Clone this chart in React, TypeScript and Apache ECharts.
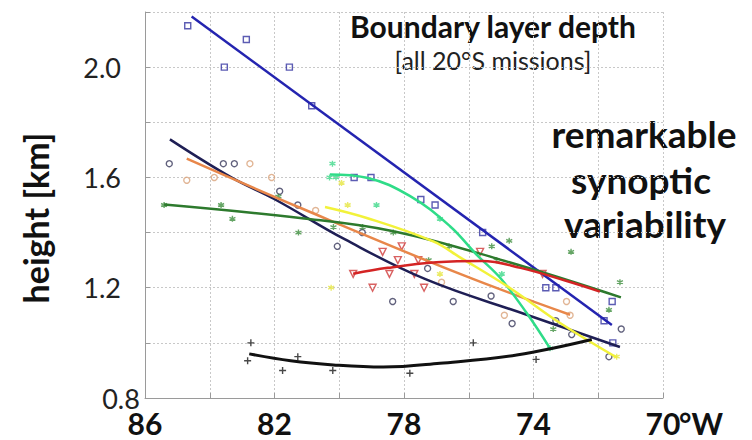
import React, { useEffect, useRef } from 'react';
import * as echarts from 'echarts';

// ---- data (longitude °W, height km) ----
const blueSquares = [[84.68, 2.15], [82.87, 2.1], [83.55, 2.0], [81.54, 2.0], [80.85, 1.86], [79.54, 1.6], [79.02, 1.6], [77.48, 1.52], [77.04, 1.5], [75.57, 1.4], [73.62, 1.2], [73.31, 1.2], [71.57, 1.15], [71.82, 1.08], [71.55, 1.0]];
const blueFit = [[84.56, 2.184], [71.58, 1.065]];

const navyCircles = [[85.25, 1.65], [83.58, 1.65], [83.24, 1.65], [81.84, 1.55], [81.28, 1.5], [80.06, 1.35], [79.29, 1.4], [77.27, 1.27], [78.35, 1.15], [76.48, 1.15], [75.31, 1.17], [74.66, 1.07], [73.31, 1.08], [72.82, 1.03], [71.29, 1.05], [71.67, 0.95]];
const navyFit = [[85.23, 1.738], [83.32, 1.599], [81.98, 1.52], [79.82, 1.375], [77.3, 1.229], [74.21, 1.102], [71.33, 0.985]];

const orangeCircles = [[84.71, 1.59], [83.86, 1.6], [82.76, 1.65], [82.09, 1.6], [80.73, 1.48], [76.84, 1.22], [74.9, 1.1], [72.98, 1.15], [72.87, 1.1]];
const orangeFit = [[84.71, 1.668], [81.21, 1.49], [76.27, 1.25], [72.87, 1.102]];

const greenStars = [[85.41, 1.5], [83.65, 1.5], [83.3, 1.45], [81.88, 1.53], [81.26, 1.4], [80.18, 1.42], [79.28, 1.42], [78.33, 1.4], [77.24, 1.3], [76.61, 1.35], [75.29, 1.35], [75.14, 1.3], [74.75, 1.37], [73.39, 1.05], [72.84, 1.33], [71.33, 1.22], [71.67, 1.12]];
const greenFit = [[85.41, 1.502], [81.21, 1.453], [78.33, 1.405], [75.03, 1.302], [71.3, 1.165]];

const redTriangles = [[79.57, 1.25], [78.97, 1.2], [78.66, 1.33], [78.45, 1.25], [78.19, 1.3], [78.07, 1.35], [77.68, 1.25], [77.56, 1.3], [77.38, 1.2], [75.65, 1.33], [73.72, 1.25]];
const redFit = [[79.57, 1.251], [78.5, 1.272], [77.0, 1.292], [75.6, 1.297], [74.4, 1.272], [73.0, 1.225], [71.95, 1.186]];

const mintStars = [[80.21, 1.65], [80.3, 1.6], [80.1, 1.6], [78.85, 1.5], [76.89, 1.45], [74.98, 1.25], [73.49, 0.98]];
const mintFit = [[80.29, 1.611], [79.15, 1.599], [77.81, 1.532], [76.58, 1.423], [75.76, 1.32], [75.03, 1.236], [74.21, 1.108], [73.48, 0.978]];

const yellowDots = [[79.93, 1.58], [79.74, 1.5], [80.25, 1.2], [76.89, 1.25], [71.43, 0.95]];
const yellowFit = [[80.44, 1.493], [79.15, 1.453], [77.1, 1.368], [76.27, 1.31], [74.73, 1.199], [73.18, 1.072], [71.43, 0.947]];

const blackPluses = [[82.73, 1.0], [82.83, 0.935], [81.28, 0.95], [81.75, 0.9], [80.2, 0.9], [77.82, 0.89], [75.86, 1.0], [73.92, 0.94]];
const blackFit = [[82.78, 0.96], [81.5, 0.935], [80.18, 0.92], [78.64, 0.912], [76.89, 0.926], [74.52, 0.956], [72.2, 1.012]];

const xLabeled = [86, 82, 78, 74, 70];
const yLabeled = [0.8, 1.2, 1.6, 2.0];

const FONT = 'Lato';
const PLUS = 'path://M5,0L5,10M0,5L10,5';
const ASTER = 'path://M5,0L5,10M0.7,2.5L9.3,7.5M0.7,7.5L9.3,2.5';

function scatter(data: number[][], symbol: string, color: string, size: number, rotate = 0) {
  return {
    type: 'scatter',
    data,
    symbol,
    symbolSize: size,
    symbolRotate: rotate,
    itemStyle: { color: 'rgba(0,0,0,0)', borderColor: color, borderWidth: 1.4 },
    z: 2,
  };
}
function fit(data: number[][], color: string, width = 2.5) {
  return {
    type: 'line',
    data,
    smooth: 0.4,
    showSymbol: false,
    symbol: 'none',
    lineStyle: { color, width },
    z: 3,
  };
}

export default function App() {
  const ref = useRef<HTMLDivElement>(null);
  useEffect(() => {
    if (!ref.current) return;
    const chart = echarts.init(ref.current, null, { renderer: 'svg' });
    chart.setOption({
      animation: false,
      backgroundColor: '#ffffff',
      grid: { left: 145, right: 89, top: 12, bottom: 42 },
      xAxis: {
        type: 'value',
        min: 70,
        max: 86,
        interval: 2,
        inverse: true,
        axisLine: { show: true, lineStyle: { color: '#9a9a9a', width: 1 } },
        axisTick: { show: true, inside: true, length: 5, lineStyle: { color: '#9a9a9a' } },
        splitLine: { show: true, lineStyle: { color: '#c8c8c8', type: [2, 2], width: 1 } },
        axisLabel: {
          formatter: (v: number) => (xLabeled.includes(v) ? String(v) : ''),
          fontFamily: FONT,
          fontWeight: 'bold',
          fontSize: 30,
          lineHeight: 26,
          color: '#111',
          margin: 12,
          alignMinLabel: 'center',
          alignMaxLabel: 'center',
        },
      },
      yAxis: {
        type: 'value',
        min: 0.8,
        max: 2.2,
        interval: 0.2,
        axisLine: { show: true, lineStyle: { color: '#9a9a9a', width: 1 } },
        axisTick: { show: true, inside: true, length: 5, lineStyle: { color: '#9a9a9a' } },
        splitLine: { show: true, lineStyle: { color: '#c8c8c8', type: [2, 2], width: 1 } },
        axisLabel: {
          formatter: (v: number) => (yLabeled.some((t) => Math.abs(t - v) < 1e-6) ? v.toFixed(1) : ''),
          fontFamily: FONT,
          fontSize: 27,
          lineHeight: 20,
          color: '#222',
          margin: 24,
          alignMinLabel: 'center',
          alignMaxLabel: 'center',
        },
      },
      graphic: [
        { type: 'text', x: 493, y: 26, style: { text: 'Boundary layer depth', font: `bold 30px ${FONT}`, fill: '#111', align: 'center', verticalAlign: 'middle' } },
        { type: 'text', x: 493, y: 60, style: { text: '[all 20°S missions]', font: `25px ${FONT}`, fill: '#222', align: 'center', verticalAlign: 'middle' } },
        { type: 'text', x: 644, y: 133, style: { text: 'remarkable', font: `bold 37px ${FONT}`, fill: '#111', align: 'center', verticalAlign: 'middle' } },
        { type: 'text', x: 641, y: 179, style: { text: 'synoptic', font: `bold 37px ${FONT}`, fill: '#111', align: 'center', verticalAlign: 'middle' } },
        { type: 'text', x: 645, y: 223, style: { text: 'variability', font: `bold 37px ${FONT}`, fill: '#111', align: 'center', verticalAlign: 'middle' } },
        { type: 'text', x: 35, y: 218, rotation: Math.PI / 2, style: { text: 'height [km]', font: `bold 34px ${FONT}`, fill: '#111', align: 'center', verticalAlign: 'middle' } },
        { type: 'text', x: 679, y: 423, style: { text: '°W', font: `bold 30px ${FONT}`, fill: '#111', align: 'left', verticalAlign: 'middle' } },
      ],
      series: [
        scatter(blueSquares, 'rect', '#3333a0', 6),
        scatter(navyCircles, 'circle', '#3a3a5c', 6),
        scatter(orangeCircles, 'circle', '#d9a27a', 6),
        scatter(greenStars, ASTER, '#3f8f3f', 6),
        scatter(redTriangles, 'triangle', '#d03a3a', 7, 180),
        scatter(mintStars, ASTER, '#3fd88a', 6),
        scatter(yellowDots, ASTER, '#e6e640', 6),
        scatter(blackPluses, PLUS, '#1a1a1a', 7),
        fit(blueFit, '#2424b0'),
        fit(navyFit, '#1f1f55'),
        fit(orangeFit, '#e8874a'),
        fit(greenFit, '#2d7a2d'),
        fit(mintFit, '#2fdc88'),
        fit(yellowFit, '#f2f23a'),
        fit(redFit, '#d42424'),
        fit(blackFit, '#111111', 3),
      ],
    });
    return () => chart.dispose();
  }, []);
  return <div ref={ref} style={{ position: 'fixed', left: 0, top: 0, width: 752, height: 440 }} />;
}
